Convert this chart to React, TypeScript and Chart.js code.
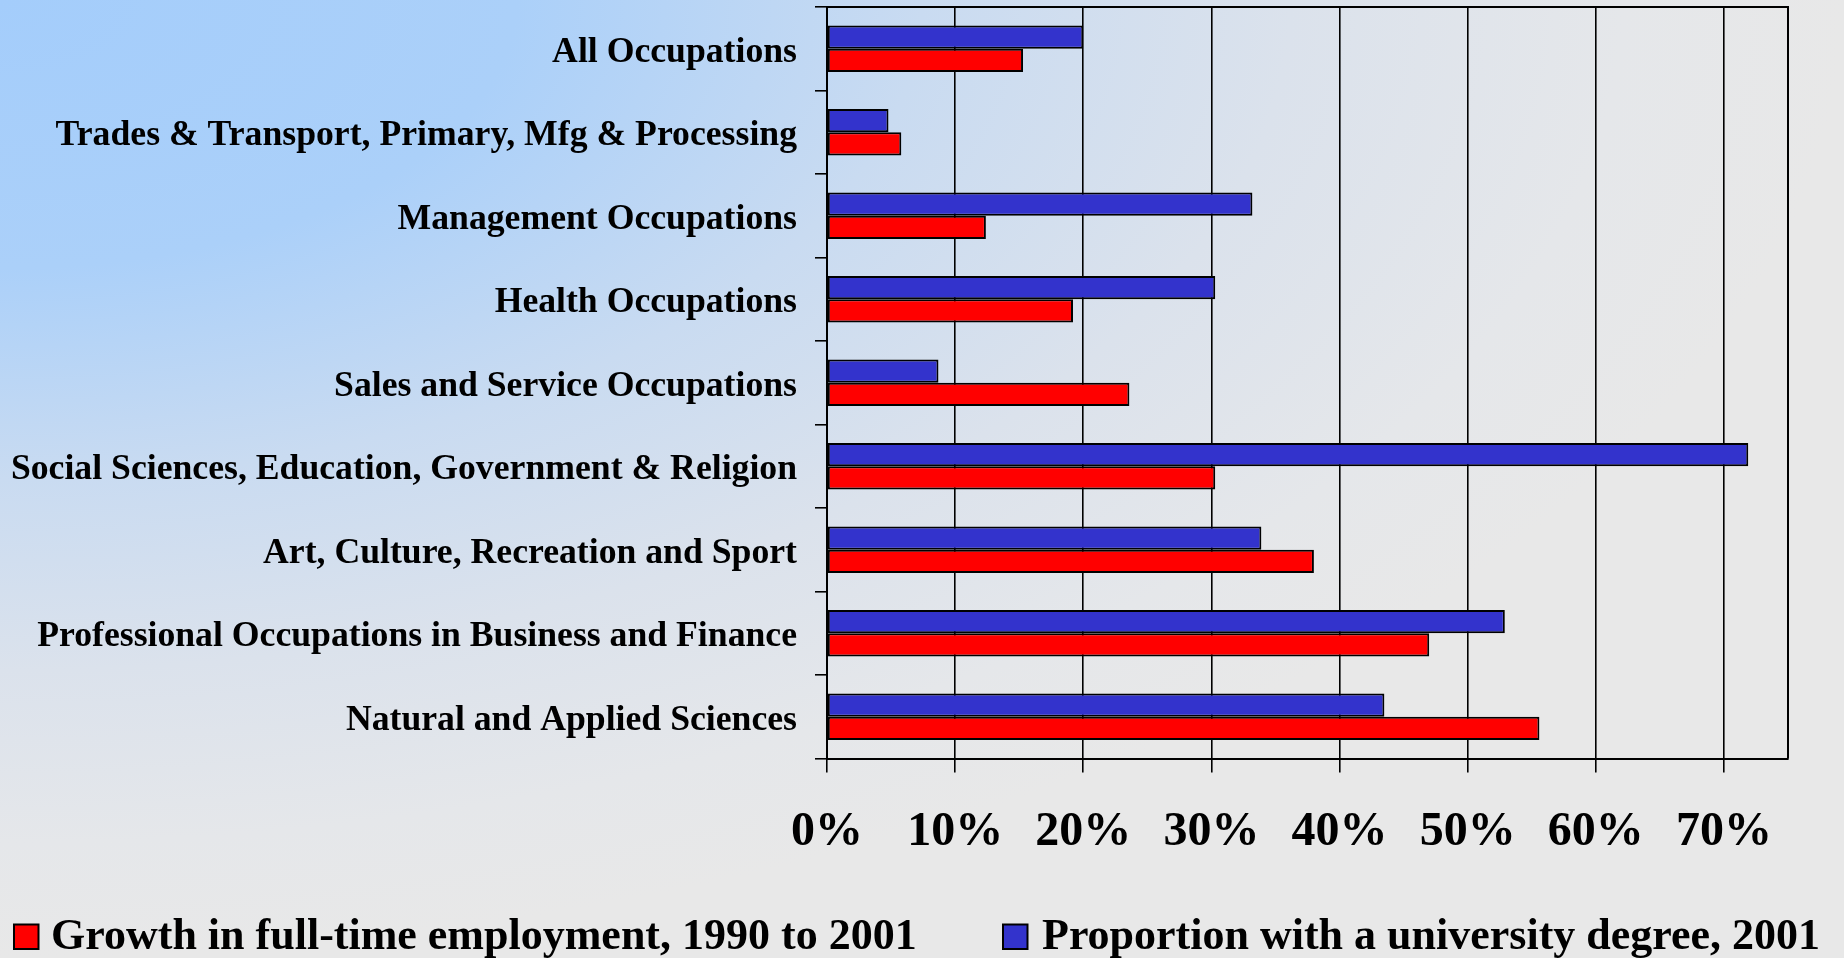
import React, { useEffect, useRef } from "react";
import { Chart, registerables } from "chart.js";

Chart.register(...registerables);

const categories = [
  "All Occupations",
  "Trades & Transport, Primary, Mfg & Processing",
  "Management Occupations",
  "Health Occupations",
  "Sales and Service Occupations",
  "Social Sciences, Education, Government & Religion",
  "Art, Culture, Recreation and Sport",
  "Professional Occupations in Business and Finance",
  "Natural and Applied Sciences",
];

const universityDegree2001 = [20.0, 4.8, 33.2, 30.3, 8.7, 71.9, 33.9, 52.9, 43.5];
const employmentGrowth1990to2001 = [15.3, 5.8, 12.4, 19.2, 23.6, 30.3, 38.0, 47.0, 55.6];

const seriesNames = [
  "Proportion with a university degree, 2001",
  "Growth in full-time employment, 1990 to 2001",
];

const xTickValues = [0, 10, 20, 30, 40, 50, 60, 70];

const FONT = "'Liberation Serif', 'Times New Roman', serif";

const framePlugin = {
  id: "frame",
  afterDraw(chart: any) {
    const { ctx, chartArea } = chart;
    ctx.save();
    ctx.strokeStyle = "#000";
    ctx.lineWidth = 2;
    ctx.beginPath();
    ctx.moveTo(chartArea.left, chartArea.top);
    ctx.lineTo(chartArea.right, chartArea.top);
    ctx.lineTo(chartArea.right, chartArea.bottom);
    ctx.stroke();
    ctx.restore();
  },
};

// legend drawn from the datasets (order: growth first, then degree)
const legendPlugin = {
  id: "bottomLegend",
  afterDraw(chart: any) {
    const { ctx } = chart;
    const ds = chart.data.datasets;
    const items = [
      { d: ds[1], boxX: 14, textX: 51 },
      { d: ds[0], boxX: 1003, textX: 1042 },
    ];
    const baseline = 949;
    const boxTop = 924.5;
    const box = 24.5;
    ctx.save();
    ctx.font = `bold 44px ${FONT}`;
    ctx.textBaseline = "alphabetic";
    ctx.textAlign = "left";
    items.forEach(({ d, boxX, textX }) => {
      ctx.fillStyle = d.backgroundColor;
      ctx.fillRect(boxX, boxTop, box, box);
      ctx.strokeStyle = "#000";
      ctx.lineWidth = 2;
      ctx.strokeRect(boxX, boxTop, box, box);
      ctx.fillStyle = "#000";
      ctx.fillText(d.label, textX, baseline);
    });
    ctx.restore();
  },
};

export default function App() {
  const ref = useRef<HTMLCanvasElement | null>(null);

  useEffect(() => {
    if (!ref.current) return;
    const chart = new Chart(ref.current, {
      type: "bar",
      data: {
        labels: categories,
        datasets: [
          {
            label: seriesNames[0],
            data: universityDegree2001,
            backgroundColor: "#3333cc",
            borderColor: "#000",
            borderWidth: 2,
            borderSkipped: false,
          },
          {
            label: seriesNames[1],
            data: employmentGrowth1990to2001,
            backgroundColor: "#ff0000",
            borderColor: "#000",
            borderWidth: 2,
            borderSkipped: false,
          },
        ],
      },
      options: {
        indexAxis: "y",
        responsive: false,
        animation: false,
        layout: { padding: { top: 7, right: 56, left: 0, bottom: 107 } },
        datasets: {
          bar: { categoryPercentage: 0.558, barPercentage: 1.0 },
        },
        scales: {
          x: {
            min: 0,
            max: 75,
            afterBuildTicks: (axis: any) => {
              axis.ticks = xTickValues.map((v) => ({ value: v }));
            },
            afterFit: (scale: any) => {
              scale.height = 92.5;
              scale.paddingLeft = 0;
              scale.paddingRight = 0;
            },
            ticks: {
              callback: (v: any) => v + "%",
              color: "#000",
              padding: 31,
              font: { family: FONT, size: 48, weight: "bold" },
              maxRotation: 0,
              autoSkip: false,
            },
            grid: {
              color: "#000",
              lineWidth: 1.6,
              tickLength: 14,
              drawOnChartArea: true,
            },
            border: { display: true, color: "#000", width: 2 },
          },
          y: {
            afterFit: (scale: any) => {
              scale.width = 827;
              scale.paddingTop = 0;
              scale.paddingBottom = 0;
            },
            ticks: {
              color: "#000",
              padding: 18,
              labelOffset: 4,
              font: { family: FONT, size: 35.7, weight: "bold" },
              autoSkip: false,
            },
            grid: {
              color: "#000",
              lineWidth: 1.6,
              tickLength: 12,
              drawOnChartArea: false,
              offset: true,
            },
            border: { display: true, color: "#000", width: 2 },
          },
        },
        plugins: {
          legend: { display: false },
          tooltip: { enabled: false },
        },
      },
      plugins: [framePlugin, legendPlugin],
    });
    return () => chart.destroy();
  }, []);

  return (
    <div
      style={{
        position: "fixed",
        left: 0,
        top: 0,
        width: "1844px",
        height: "958px",
        overflow: "hidden",
        background:
          "radial-gradient(ellipse 100% 100% at 0% 0%, #a4cdfb 0%, #abd0f9 28%, #c9dbf1 50%, #dbe2ec 70%, #e5e7ea 88%, #e8e8e8 100%)",
      }}
    >
      <canvas ref={ref} width={1844} height={958} style={{ display: "block" }} />
    </div>
  );
}
